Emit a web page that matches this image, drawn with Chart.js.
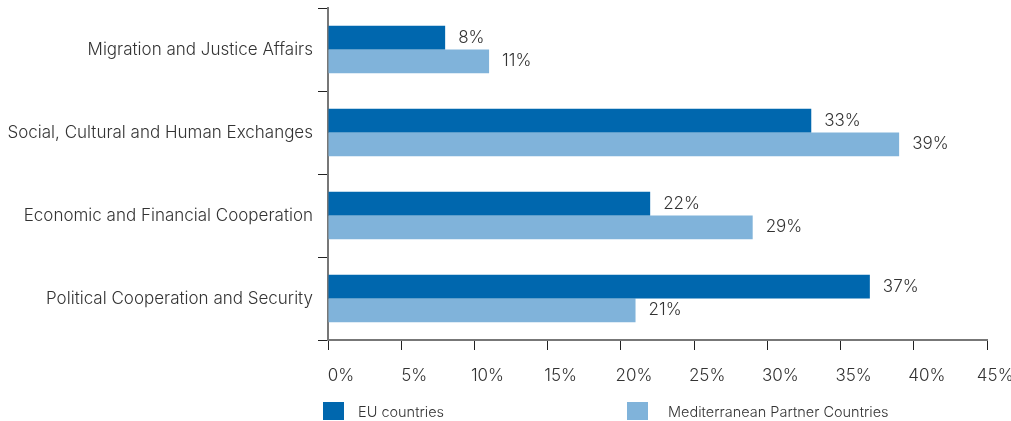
<!DOCTYPE html>
<html>
<head>
<meta charset="utf-8">
<script src="https://cdn.jsdelivr.net/npm/chart.js@4/dist/chart.umd.min.js"></script>
<style>
  body { margin: 0; background: #fff; }
  #wrap { position: relative; width: 1011px; height: 421px; overflow: hidden; }
  #legend .swatch { position: absolute; top: 402px; width: 21px; height: 18px; }
  #legend .text { position: absolute; top: 403px; line-height: 20px;
    font: 300 14.5px Inter, "Liberation Sans", sans-serif; color: #333; white-space: nowrap; }
</style>
</head>
<body>
<div id="wrap">
  <canvas id="chart" width="1011" height="421"></canvas>
  <div id="legend"></div>
</div>
<script>
const categories = [
  'Migration and Justice Affairs',
  'Social, Cultural and Human Exchanges',
  'Economic and Financial Cooperation',
  'Political Cooperation and Security'
];
const euCountries = [8, 33, 22, 37];
const partnerCountries = [11, 39, 29, 21];
const seriesNames = ['EU countries', 'Mediterranean Partner Countries'];
const seriesColors = ['#0067ae', '#80b3da'];
const xMax = 45;
const xStep = 5;

const fontFamily = 'Inter, "Liberation Sans", sans-serif';
Chart.defaults.font.family = fontFamily;
Chart.defaults.font.size = 17;
Chart.defaults.font.weight = 300;
Chart.defaults.color = '#333';

// value text just past the end of each bar
const barValueLabels = {
  id: 'barValueLabels',
  afterDatasetsDraw(chart) {
    const ctx = chart.ctx;
    ctx.save();
    ctx.font = '300 17px ' + fontFamily;
    ctx.fillStyle = '#333';
    ctx.textBaseline = 'middle';
    chart.data.datasets.forEach((ds, i) => {
      chart.getDatasetMeta(i).data.forEach((bar, j) => {
        ctx.fillText(ds.data[j] + '%', bar.x + 13, bar.y);
      });
    });
    ctx.restore();
  }
};

const chart = new Chart(document.getElementById('chart'), {
  type: 'bar',
  data: {
    labels: categories,
    datasets: [
      { label: seriesNames[0], data: euCountries, backgroundColor: seriesColors[0] },
      { label: seriesNames[1], data: partnerCountries, backgroundColor: seriesColors[1] }
    ]
  },
  options: {
    indexAxis: 'y',
    responsive: false,
    animation: false,
    events: [],
    barPercentage: 1,
    categoryPercentage: 0.57,
    layout: { padding: { top: 8, right: 24, bottom: 36, left: 0 } },
    plugins: {
      legend: { display: false },
      tooltip: { enabled: false }
    },
    scales: {
      x: {
        min: 0,
        max: xMax,
        ticks: {
          stepSize: xStep,
          padding: 16,
          labelOffset: 13,
          // last label pulled back a little so it stays inside the canvas
          callback: v => v === xMax ? v + '%\u00a0\u00a0' : v + '%'
        },
        grid: { drawOnChartArea: false, tickLength: 10, color: '#222' },
        border: { color: '#777', width: 2 },
        afterFit: axis => {
          axis.height = 45;
          axis.paddingLeft = 0;
          axis.paddingRight = 0;
        }
      },
      y: {
        ticks: { padding: 5 },
        grid: { drawOnChartArea: false, tickLength: 10, color: '#222', offset: true },
        border: { color: '#777', width: 2 },
        afterFit: axis => {
          axis.width = 328;
          axis.paddingTop = 0;
          axis.paddingBottom = 0;
        }
      }
    }
  },
  plugins: [barValueLabels]
});

// legend below the axis
const legend = document.getElementById('legend');
const swatchLeft = [323, 627];
const textLeft = [358, 668];
chart.data.datasets.forEach((ds, i) => {
  const swatch = document.createElement('div');
  swatch.className = 'swatch';
  swatch.style.left = swatchLeft[i] + 'px';
  swatch.style.background = ds.backgroundColor;
  const text = document.createElement('div');
  text.className = 'text';
  text.style.left = textLeft[i] + 'px';
  text.textContent = ds.label;
  legend.appendChild(swatch);
  legend.appendChild(text);
});
</script>
</body>
</html>
